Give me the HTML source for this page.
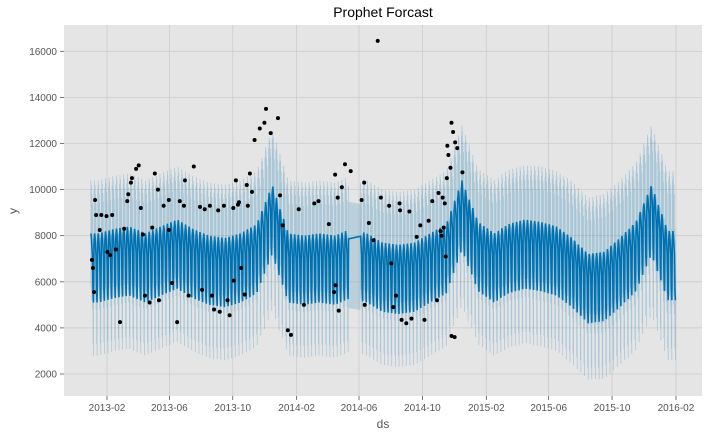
<!DOCTYPE html>
<html><head><meta charset="utf-8">
<style>
html,body{margin:0;padding:0;background:#fff;}
svg{display:block;font-family:"Liberation Sans",sans-serif;}
</style></head>
<body>
<svg id="chart" width="712" height="438" viewBox="0 0 712 438">
  <text x="383" y="17" text-anchor="middle" font-size="14" fill="#000">Prophet Forcast</text>
  <rect x="64" y="25" width="638" height="371" fill="#e5e5e5"/>
  <g id="grid"></g>
  <g id="band"></g>
  <g id="line"></g>
  <g id="dots"></g>
  <g id="axes"></g>
  <text x="383" y="428" text-anchor="middle" font-size="12" fill="#555">ds</text>
  <text x="17" y="211" text-anchor="middle" font-size="12" fill="#555" transform="rotate(-90 17 211)">y</text>
</svg>
<script>
// ---- data ----
const startDate = "2013-01-01";
const totalDays = 1126;
const gapStart = 496, gapEnd = 519;
const monthLevels = [7000,7200,7300,7000,7300,7600,7200,6900,6800,7000,7400,9100,
                     7000,6900,7000,6900,7200,7000,6600,6500,6600,7000,7400,9300,
                     7500,7000,7400,7600,7500,7300,6800,6100,6200,6800,7500,9100,7100];
const weekly = [700,1100,900,500,100,-1400,-1900];
const bandHalf = [2300,2300,2300,2300,2300,2300,2300,2300,2300,2300,2300,2400,
                  2300,2300,2300,2300,2300,2300,2300,2300,2300,2300,2300,2400,
                  2300,2300,2350,2350,2400,2400,2450,2450,2500,2500,2550,2600,2600];
const obsDays = [2,4,6,8,10,17,20,30,32,37,41,48,56,64,77,70,72,79,87,92,96,100,104,113,118,123,129,131,140,150,150,156,166,171,179,181,198,188,210,214,219,233,229,237,245,248,256,263,267,274,275,279,283,285,289,296,300,302,306,310,315,325,334,337,346,360,364,369,379,385,400,410,430,438,458,468,470,471,475,477,483,489,500,521,526,527,535,544,552,558,574,578,582,587,594,595,598,607,613,617,627,634,642,650,657,666,669,675,673,677,679,681,683,685,686,688,692,694,697,701,705,715,694,700];
const obsVals = [6950,6600,5550,9550,8900,8250,8900,8850,7300,7150,8900,7400,4250,8300,10300,9500,9800,10500,10900,11050,9200,8050,5400,5100,8350,10700,10000,5200,9300,8250,9550,5950,4250,9500,9300,10400,11000,5400,9250,5650,9150,5400,9300,4800,9100,4700,9300,5200,4550,9200,6050,10400,9350,9450,6600,5450,10200,9300,10700,9900,12150,12650,12900,13500,12450,13100,9750,8450,3900,3700,9150,5000,9400,9500,8500,5550,10650,5850,9650,4750,10100,11100,10800,9550,10300,5000,8550,7800,16450,9650,9300,6800,4900,5400,9400,9100,4350,4200,9050,4400,7950,8450,4350,8650,9500,5200,9850,8000,8200,9650,8350,9400,7100,10500,11900,11500,10950,12900,12500,12050,11800,10750,3650,3600,9100,7950,6400,8850,8200,6750,8150,8000,6800];
const yTicks = [2000,4000,6000,8000,10000,12000,14000,16000];
const xTickLabels = ["2013-02","2013-06","2013-10","2014-02","2014-06","2014-10","2015-02","2015-06","2015-10","2016-02"];
const xTickDays = [31,151,273,396,516,638,761,881,1003,1126];

// ---- axes ----
const X = d => 90.9 + d * 0.5196;
const Y = v => 374 - (v - 2000) * 0.02305;
const NS = "http://www.w3.org/2000/svg";
function mk(tag, attrs, parent){const e=document.createElementNS(NS,tag);for(const k in attrs)e.setAttribute(k,attrs[k]);parent.appendChild(e);return e;}

const grid=document.getElementById('grid'), axes=document.getElementById('axes');
yTicks.forEach(v=>{
  const l=mk('line',{x1:64,x2:702,y1:Y(v),y2:Y(v),stroke:'#cccccc','stroke-width':0.8},grid);
  
  
  mk('line',{x1:60,x2:64,y1:Y(v),y2:Y(v),stroke:'#555','stroke-width':0.8},axes);
  const t=mk('text',{x:57,y:Y(v)+3.5,'text-anchor':'end','font-size':10,fill:'#555'},axes);
  t.textContent=v;
  
  
});
xTickDays.forEach((d,i)=>{
  const l=mk('line',{x1:X(d),x2:X(d),y1:25,y2:396,stroke:'#cccccc','stroke-width':0.8},grid);
  
  
  mk('line',{x1:X(d),x2:X(d),y1:396,y2:400,stroke:'#555','stroke-width':0.8},axes);
  const t=mk('text',{x:X(d),y:411,'text-anchor':'middle','font-size':10,fill:'#555'},axes);
  t.textContent=xTickLabels[i];
  
  
});

// ---- model ----
const base=new Date(startDate+"T00:00:00Z");
function levelAt(d){
  const dt=new Date(base.getTime()+d*86400000);
  const m=(dt.getUTCFullYear()-2013)*12+dt.getUTCMonth();
  const frac=(dt.getUTCDate()-1)/30-0.5;
  const m2=Math.max(0,Math.min(monthLevels.length-1,m+(frac>=0?1:-1)));
  const a=Math.abs(frac);
  return [monthLevels[m]*(1-a)+monthLevels[m2]*a, bandHalf[Math.min(m,bandHalf.length-1)], dt.getUTCDay()];
}
let pts=[];
let bandPath='';
for(let d=0; d<=totalDays; d++){
  if(d>gapStart && d<gapEnd) continue;
  const [lv,bh,dow]=levelAt(d);
  const yh=lv+weekly[(dow+6)%7];
  const x=X(d).toFixed(1);
  pts.push(x+','+Y(yh).toFixed(1));
  bandPath+='M'+x+' '+Y(yh+bh).toFixed(1)+'V'+Y(yh-bh).toFixed(1);
}
const [lg,bg]=levelAt(gapStart), [lh,bh2]=levelAt(gapEnd);
const wedge=mk('polygon',{points:`${X(gapStart)},${Y(lg+bg)} ${X(gapEnd)},${Y(lh+bh2)} ${X(gapEnd)},${Y(lh-bh2)} ${X(gapStart)},${Y(lg-bg)}`,fill:'#0072B2','fill-opacity':0.18},document.getElementById('band'));


const band=mk('path',{d:bandPath,fill:'none',stroke:'#0072B2','stroke-opacity':0.26,'stroke-width':0.8},document.getElementById('band'));


const ln=mk('polyline',{points:pts.join(' '),fill:'none',stroke:'#0072B2','stroke-width':1.6},document.getElementById('line'));



const dots=document.getElementById('dots');
obsDays.forEach((d,i)=>{
  if(i>=obsVals.length) return;
  const c=mk('circle',{cx:X(d),cy:Y(obsVals[i]),r:2,fill:'#000'},dots);
  
  
});
</script>
</body></html>
